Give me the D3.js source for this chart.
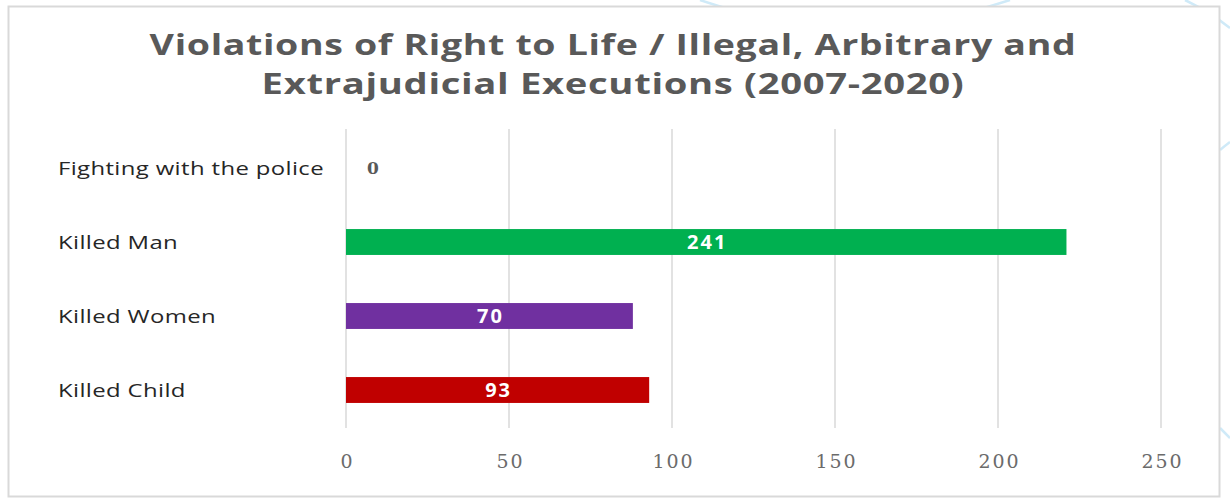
<!DOCTYPE html>
<html>
<head>
<meta charset="utf-8">
<script src="https://cdn.jsdelivr.net/npm/d3@7"></script>
<style>
  body { margin: 0; background: #fff; }
  svg { display: block; }
</style>
</head>
<body>
<svg id="chart" width="1230" height="499"></svg>
<script>
// Chart data
const categories = ['Fighting with the police', 'Killed Man', 'Killed Women', 'Killed Child']
// bar lengths as drawn against the axis
const barValues = [0, 221, 88, 93]
// numbers printed on the bars
const dataLabels = ['0', '241', '70', '93']
const barColors = ['#00b050', '#00b050', '#7030a0', '#c00000']
const xTicks = [0, 50, 100, 150, 200, 250]
const titleLines = ['Violations of Right to Life / Illegal, Arbitrary and', 'Extrajudicial Executions (2007-2020)']

const svg = d3.select('#chart')

// the source picture is stretched sideways, so widen a text to a given width
function stretchTo (sel, width, ox) {
  sel.each(function () {
    const k = width / this.getComputedTextLength()
    d3.select(this).attr('transform', 'translate(' + ox + ',0) scale(' + k + ',1) translate(' + (-ox) + ',0)')
  })
}

// faint decorative curves from the page behind the chart
const deco = svg.append('g')
  .attr('fill', 'none')
  .attr('stroke', '#cfeaf8')
  .attr('stroke-width', 2.5)
deco.append('path').attr('d', 'M700,0 Q735,12 760,16')
deco.append('path').attr('d', 'M955,16 Q985,8 1010,0')
deco.append('path').attr('d', 'M1185,0 Q1210,12 1230,28')
deco.append('path').attr('d', 'M1220,150 Q1226,145 1230,142')
deco.append('path').attr('d', 'M1220,428 Q1226,434 1230,438')

// outer frame
svg.append('rect')
  .attr('x', 8.5)
  .attr('y', 6.5)
  .attr('width', 1211)
  .attr('height', 490)
  .attr('fill', '#fff')
  .attr('stroke', '#d9d9d9')
  .attr('stroke-width', 2)

const x = d3.scaleLinear().domain([0, 250]).range([346, 1161])
const y = d3.scaleBand().domain(categories).range([131, 427]).paddingInner(0.65).paddingOuter(0.325)

// title, two lines
const title = svg.append('g')
  .selectAll('text')
  .data(titleLines)
  .enter()
  .append('text')
  .attr('x', 613)
  .attr('y', (d, i) => 55 + i * 39)
  .attr('text-anchor', 'middle')
  .style('font-family', '"Open Sans", sans-serif')
  .style('font-weight', 'bold')
  .style('font-size', '29px')
  .style('letter-spacing', '0.5px')
  .attr('fill', '#595959')
  .text((d) => d)
title.filter((d, i) => i === 0).call(stretchTo, 927, 613)
title.filter((d, i) => i === 1).call(stretchTo, 703, 613)

// vertical gridlines
svg.append('g')
  .selectAll('line')
  .data(xTicks)
  .enter()
  .append('line')
  .attr('x1', (d) => x(d))
  .attr('x2', (d) => x(d))
  .attr('y1', 129)
  .attr('y2', 428)
  .attr('stroke', '#d9d9d9')
  .attr('stroke-width', 1.5)

// x axis labels
const xAxis = svg.append('g')
  .attr('transform', 'translate(1,461)')
  .call(d3.axisBottom(x).tickValues(xTicks).tickSize(0).tickPadding(0))
xAxis.select('.domain').remove()
xAxis.selectAll('text')
  .attr('dy', '0.35em')
  .style('font-family', '"DejaVu Serif", serif')
  .style('font-size', '19px')
  .style('letter-spacing', '2px')
  .attr('fill', '#6b6b6b')

// category labels
const catLabels = svg.append('g')
  .selectAll('text')
  .data(categories)
  .enter()
  .append('text')
  .attr('x', 58)
  .attr('y', (d) => y(d) + y.bandwidth() / 2)
  .attr('dy', '0.35em')
  .style('font-family', '"Open Sans", sans-serif')
  .style('font-size', '19px')
  .style('letter-spacing', '0.3px')
  .attr('fill', '#262626')
  .text((d) => d)
// same stretch for every label, taken from the longest one
const catK = 266 / catLabels.nodes()[0].getComputedTextLength()
catLabels.attr('transform', 'translate(58,0) scale(' + catK + ',1) translate(-58,0)')

// bars
svg.append('g')
  .selectAll('rect')
  .data(categories)
  .enter()
  .append('rect')
  .attr('x', x(0))
  .attr('y', (d) => y(d))
  .attr('width', (d, i) => x(barValues[i]) - x(0))
  .attr('height', y.bandwidth())
  .attr('fill', (d, i) => barColors[i])

// value labels: inside the bar if there is one, else just right of the axis
svg.append('g')
  .selectAll('text')
  .data(categories)
  .enter()
  .append('text')
  .attr('x', (d, i) => barValues[i] > 0 ? (x(0) + x(barValues[i])) / 2 + 1 : x(0) + 28)
  .attr('y', (d) => y(d) + y.bandwidth() / 2)
  .attr('dy', '0.35em')
  .attr('text-anchor', 'middle')
  .style('font-family', (d, i) => barValues[i] > 0 ? '"Open Sans", sans-serif' : '"DejaVu Serif", serif')
  .style('font-weight', 'bold')
  .style('font-size', (d, i) => barValues[i] > 0 ? '20px' : '17px')
  .style('letter-spacing', '2px')
  .attr('fill', (d, i) => barValues[i] > 0 ? '#fff' : '#595959')
  .text((d, i) => dataLabels[i])
</script>
</body>
</html>
